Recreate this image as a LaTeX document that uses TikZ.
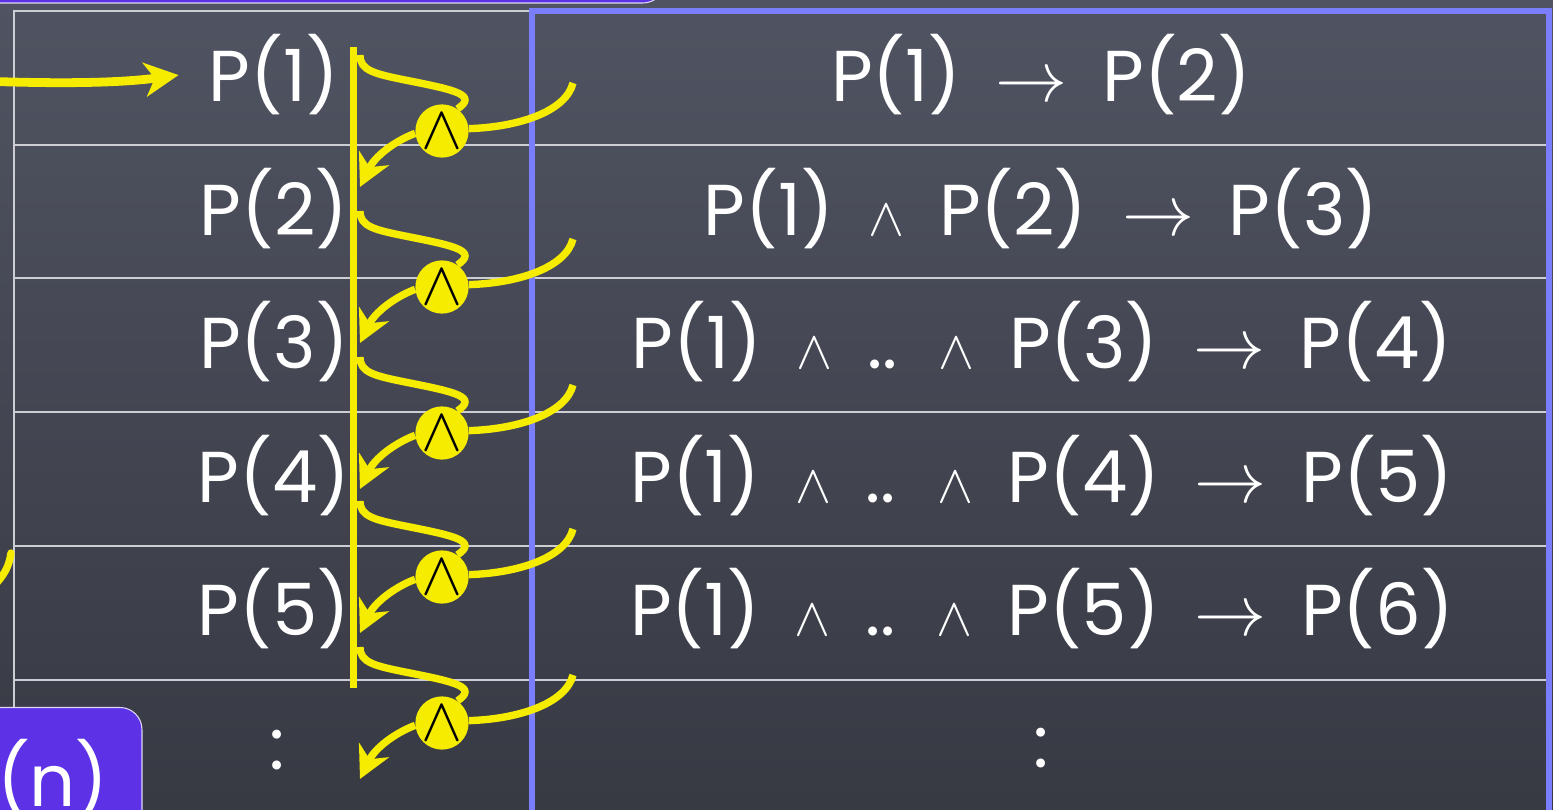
\RequirePackage{fix-cm}
\documentclass[tikz,border=0pt]{standalone}
\usepackage{fontspec}
\setmainfont[WordSpace=1.8]{Poppins}
\usetikzlibrary{arrows.meta}

\definecolor{boardtop}{RGB}{80,83,97}
\definecolor{boardbot}{RGB}{55,58,67}
\definecolor{chalkyellow}{RGB}{245,236,0}
\definecolor{frameblue}{RGB}{122,126,250}
\definecolor{boxpurple}{RGB}{93,50,230}
\definecolor{gridgray}{RGB}{205,206,212}

\newcommand{\andsym}{\scalebox{0.75}{$\wedge$}}

\begin{document}
\begin{tikzpicture}[
  x=0.02cm, y=-0.02cm,
  font=\fontsize{41}{41}\selectfont,
  rowline/.style={draw=gridgray,line width=0.8pt},
  blueframe/.style={draw=frameblue,line width=3pt},
  cell/.style={text=white,anchor=base,inner sep=0pt},
  chalk/.style={draw=chalkyellow,line width=4.2pt},
  chalkarrow/.style={chalk,-{Stealth[length=6.4mm,width=6.6mm,inset=2mm]}},
  andnode/.style={circle,fill=chalkyellow,minimum size=1cm,inner sep=0pt,font=\fontsize{35}{35}\selectfont},
  pnbox/.style={fill=boxpurple,draw=white!80!boxpurple,line width=0.6pt,rounded corners=0.44cm,text=white}
]
\clip (0,0) rectangle (1553,810);
\fill[top color=boardtop,bottom color=boardbot] (0,0) rectangle (1553,810);

\draw[rowline] (532,11) -- (14,11) -- (14,720);
\foreach \y in {145,278,412,546,680}
  \draw[rowline] (14,\y) -- (1549,\y);
\draw[blueframe] (532,11) rectangle (1549,900);

\foreach \k in {1,...,5}
  \node[cell] (left\k) at (274,{102+133.5*(\k-1)}) {P(\k)};
\node[cell] (leftdots) at (277,770) {:};

\node[cell] (right1) at (1041,102) {P(1) $\rightarrow$ P(2)};
\node[cell] (right2) at (1041,235.5) {P(1) \andsym{} P(2) $\rightarrow$ P(3)};
\foreach \k/\n in {3/4,4/5,5/6}
  \node[cell] (right\k) at (1042,{102+133.5*(\k-1)}) {P(1) \andsym{} .. \andsym{} P(\k) $\rightarrow$ P(\n)};
\node[cell] (rightdots) at (1041,768) {:};

\draw[chalk] (353.5,47) -- (353.5,688);
\coordinate (feed) at (-20,81);
\draw[chalk,line width=5pt,-{Stealth[length=6.8mm,width=6.8mm,inset=2mm]}] (feed) .. controls (60,84) and (120,83) .. ([xshift=-0.6cm]left1.west);

\foreach \c [count=\i] in {131,287,433,577,723}{
  \node[andnode] (and\i) at (442,\c) {$\wedge$};
  \coordinate (from\i) at (360,\c-76);
  \coordinate (side\i) at (573,\c-48);
  \coordinate (to\i) at (360,\c+56);
  \draw[chalk] (from\i) .. controls (360,\c-60) and (375,\c-57) .. (410,\c-50)
    .. controls (455,\c-41) and (478,\c-36) .. (and\i.55);
  \draw[chalk] (side\i) .. controls (566,\c-20) and (520,\c-4) .. (and\i.5);
  \draw[chalkarrow] (and\i.185) .. controls (395,\c+10) and (375,\c+25) .. (to\i);
}

\draw[chalk,line cap=round] (11,553) .. controls (9,567) and (4,575) .. (-6,586);

\draw[pnbox] (-60,-120) rectangle (665,3);
\node[pnbox,minimum width=4.4cm,minimum height=2.9cm] (pn) at (32,780) {P(n)};
\end{tikzpicture}
\end{document}
